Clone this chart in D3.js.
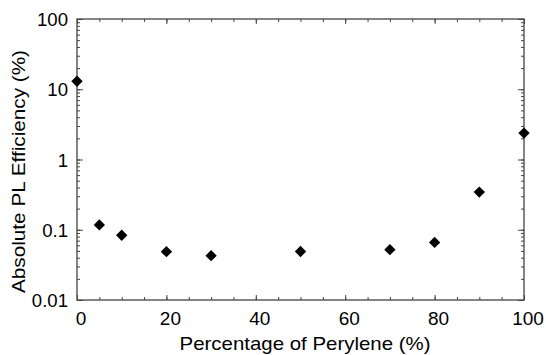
<!DOCTYPE html>
<html><head><meta charset="utf-8">
<script src="https://cdn.jsdelivr.net/npm/d3@7"></script>
<style>body{margin:0;background:#fff}svg{display:block}text{font-family:"Liberation Sans",Arial,sans-serif;fill:#000}</style>
</head><body>
<script>
const percent = [0, 5, 10, 20, 30, 50, 70, 80, 90, 100];
const efficiency = [13.0, 0.117, 0.0835, 0.0487, 0.0427, 0.049, 0.052, 0.066, 0.344, 2.38];
const xTickLabels = [0, 20, 40, 60, 80, 100];
const yTickLabels = [0.01, 0.1, 1, 10, 100];
const xTitle = "Percentage of Perylene (%)";
const yTitle = "Absolute PL Efficiency (%)";

const W = 546, H = 355;
const m = {l: 77, r: 22, t: 19, b: 55};
const svg = d3.select("body").append("svg").attr("width", W).attr("height", H);
const x = d3.scaleLinear().domain([0, 100]).range([m.l, W - m.r]);
const y = d3.scaleLog().domain([0.01, 100]).range([H - m.b, m.t]);

const axisColor = "#444";
svg.append("rect").attr("x", m.l).attr("y", m.t).attr("width", W - m.r - m.l).attr("height", H - m.b - m.t)
  .attr("fill", "none").attr("stroke", axisColor).attr("stroke-width", 1.3);

const minorX = d3.range(0, 101, 5);
const minorY = [];
for (let e = -2; e < 2; e++) for (let k = 1; k < 10; k++) minorY.push(k * Math.pow(10, e));

function styleAxis(g){ g.select(".domain").remove(); g.selectAll("line").attr("stroke", axisColor); }

// bottom
svg.append("g").attr("transform", `translate(0,${H - m.b})`)
  .call(d3.axisBottom(x).tickValues(minorX).tickSize(-3).tickFormat(""))
  .call(styleAxis);
svg.append("g").attr("transform", `translate(0,${H - m.b})`)
  .call(d3.axisBottom(x).tickValues(xTickLabels).tickSizeInner(-5).tickSizeOuter(0).tickFormat(d3.format("d")))
  .call(styleAxis).call(g => g.selectAll("text").attr("font-size", 19).attr("dy", 0).attr("y", 25).attr("dx", 3.5));
// top
svg.append("g").attr("transform", `translate(0,${m.t})`)
  .call(d3.axisTop(x).tickValues(minorX).tickSize(-3).tickFormat("")).call(styleAxis);
svg.append("g").attr("transform", `translate(0,${m.t})`)
  .call(d3.axisTop(x).tickValues(xTickLabels).tickSize(-5).tickFormat("")).call(styleAxis);
// left
svg.append("g").attr("transform", `translate(${m.l},0)`)
  .call(d3.axisLeft(y).tickValues(minorY).tickSize(-3).tickFormat("")).call(styleAxis);
svg.append("g").attr("transform", `translate(${m.l},0)`)
  .call(d3.axisLeft(y).tickValues(yTickLabels).tickSizeInner(-6).tickSizeOuter(0).tickFormat(d => String(d)))
  .call(styleAxis).call(g => g.selectAll("text").attr("font-size", 18.6).attr("x", -9).attr("dy", "0.36em"));
// right
svg.append("g").attr("transform", `translate(${W - m.r},0)`)
  .call(d3.axisRight(y).tickValues(minorY).tickSize(-3).tickFormat("")).call(styleAxis);
svg.append("g").attr("transform", `translate(${W - m.r},0)`)
  .call(d3.axisRight(y).tickValues(yTickLabels).tickSize(-6).tickFormat("")).call(styleAxis);

// points
svg.append("g").selectAll("path").data(percent.map((p, i) => [p, efficiency[i]])).join("path")
  .attr("d", d3.symbol().type(d3.symbolSquare).size(64))
  .attr("transform", d => `translate(${x(d[0])},${y(d[1])}) rotate(45)`)
  .attr("fill", "#000");

// titles
svg.append("text").attr("x", 305).attr("y", 350).attr("text-anchor", "middle")
  .attr("font-size", 19).attr("textLength", 251).attr("lengthAdjust", "spacingAndGlyphs").text(xTitle);
svg.append("text").attr("transform", `translate(25,171.5) rotate(-90)`)
  .attr("text-anchor", "middle").attr("font-size", 18.5).attr("textLength", 243).attr("lengthAdjust", "spacingAndGlyphs").text(yTitle);
</script>
</body></html>
